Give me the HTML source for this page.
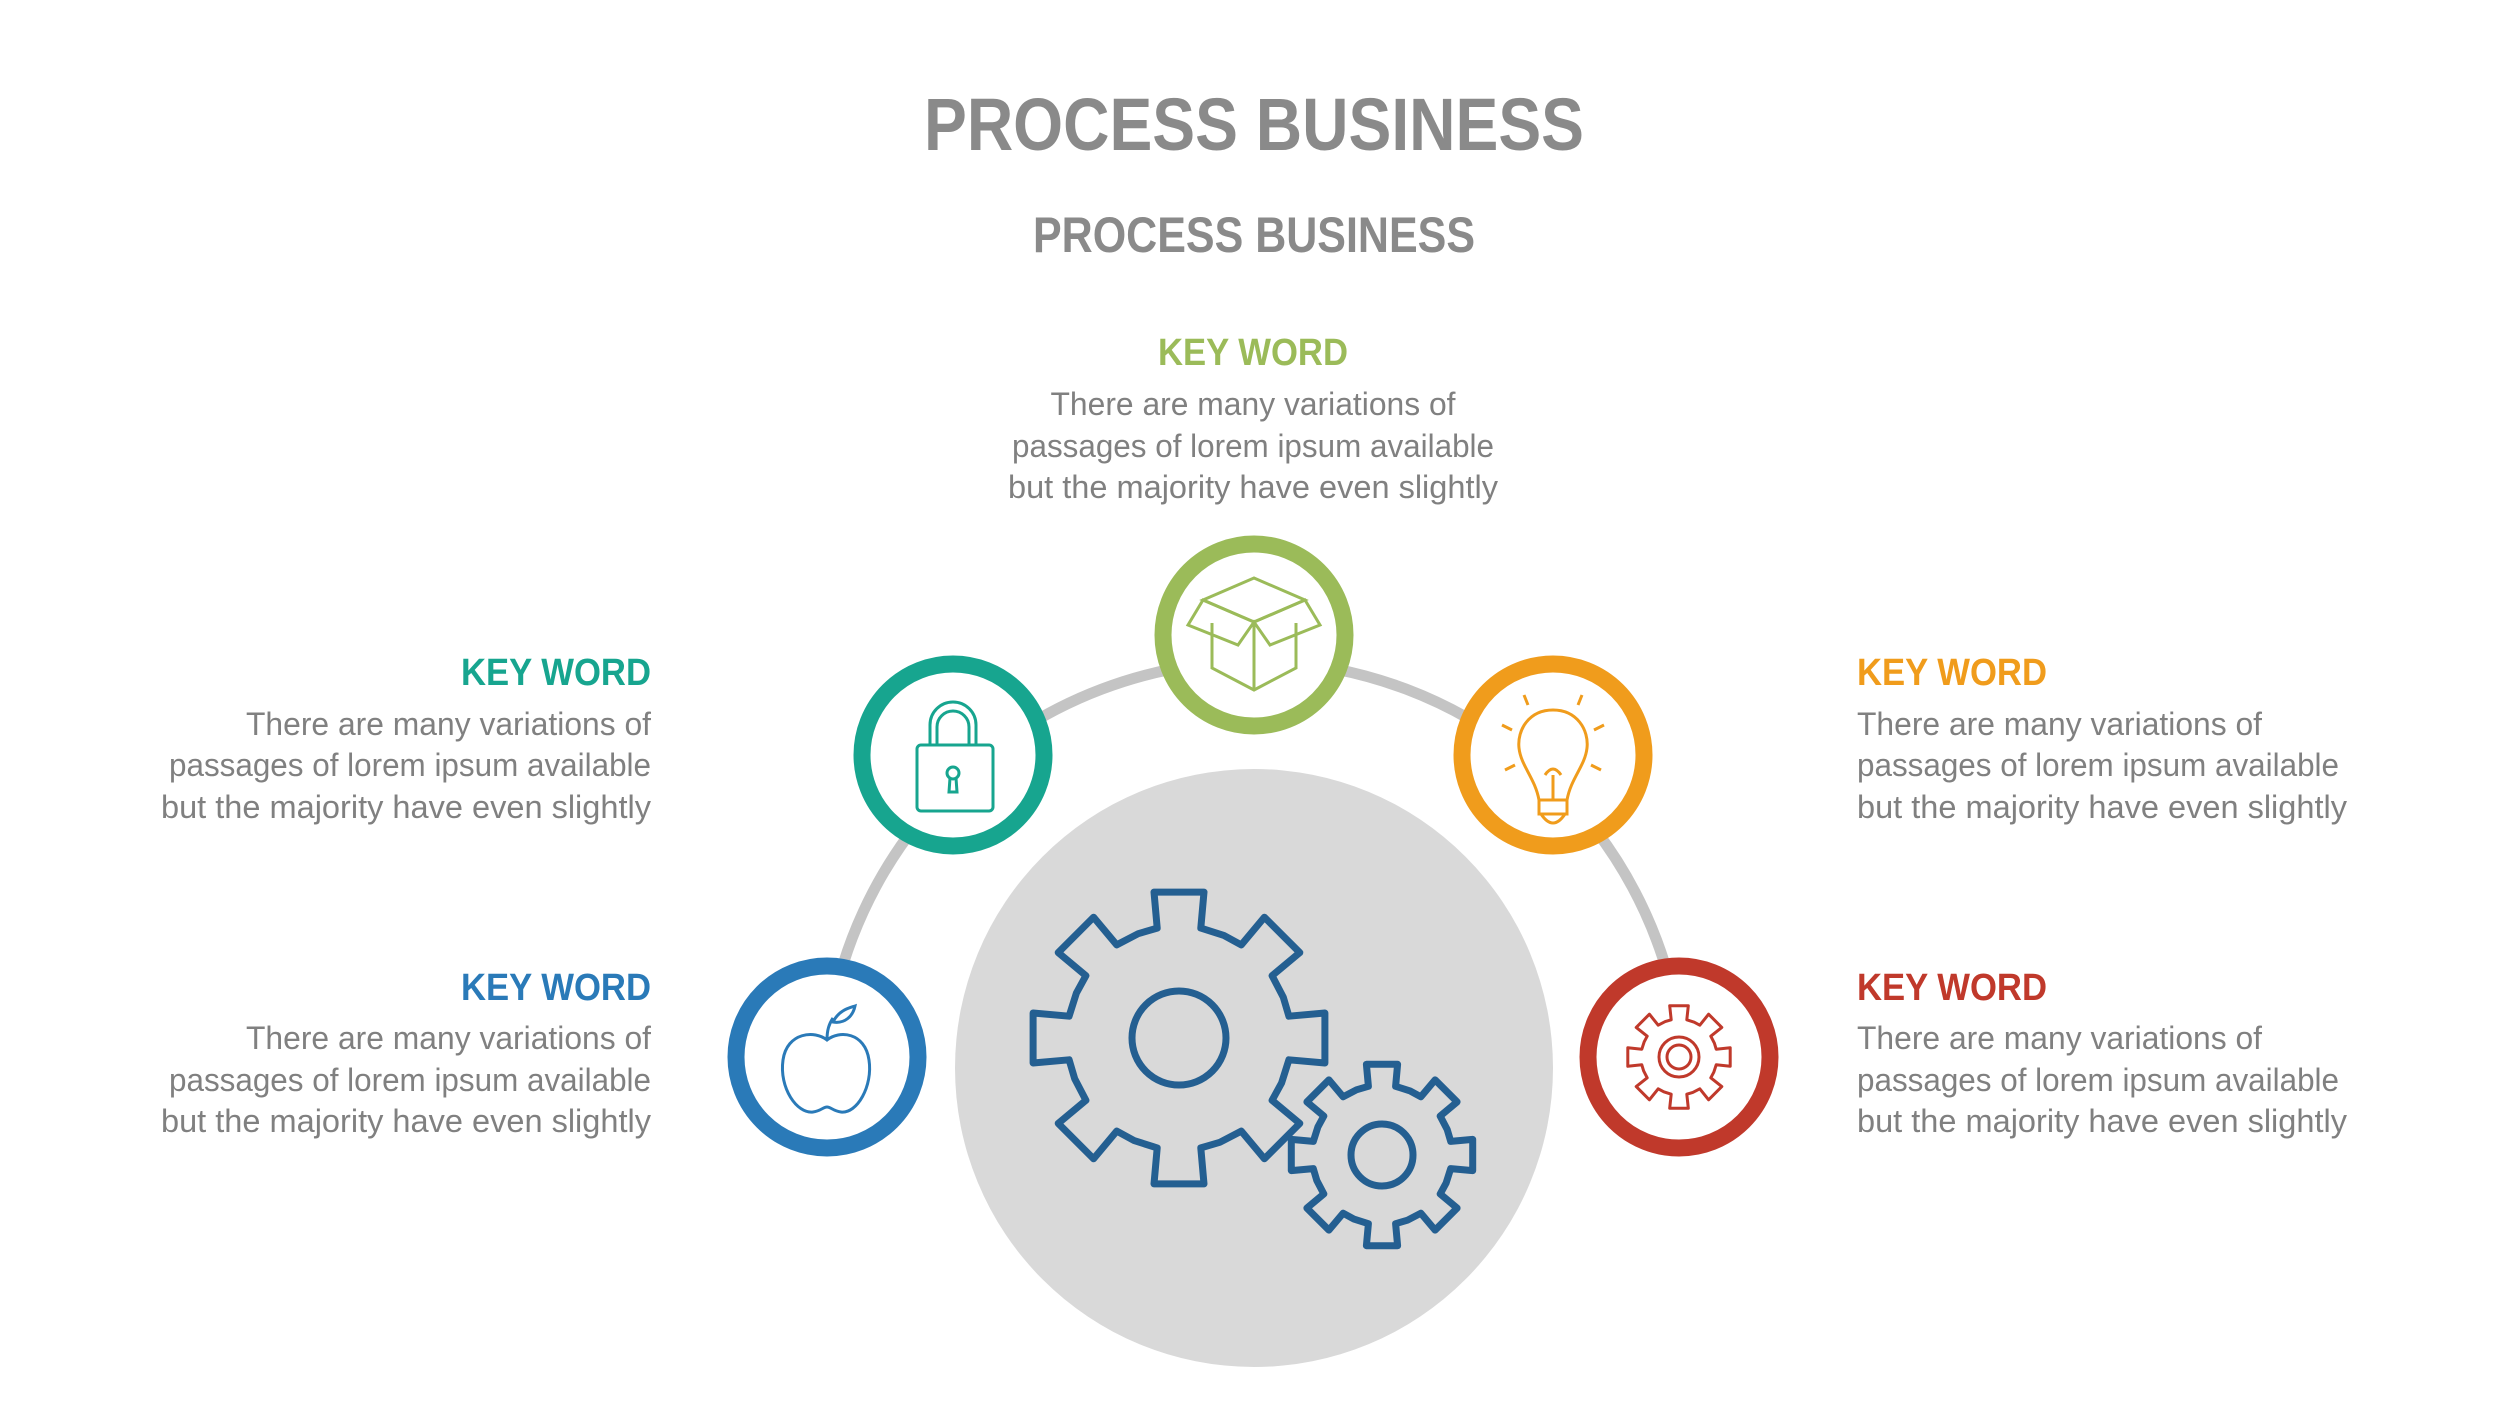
<!DOCTYPE html>
<html><head><meta charset="utf-8"><style>
html,body{margin:0;padding:0;background:#fff;}
svg{display:block;}
text{font-family:"Liberation Sans",sans-serif;}
</style></head><body>
<svg id="s" width="2500" height="1406" viewBox="0 0 2500 1406" xmlns="http://www.w3.org/2000/svg">
<rect width="2500" height="1406" fill="#fff"/>
<text x="1254" y="150" text-anchor="middle" font-size="74" font-weight="bold" fill="#8a8a8a" textLength="660" lengthAdjust="spacingAndGlyphs">PROCESS BUSINESS</text>
<text x="1254" y="252" text-anchor="middle" font-size="50" font-weight="bold" fill="#8a8a8a" textLength="442" lengthAdjust="spacingAndGlyphs">PROCESS BUSINESS</text>

<g font-size="32" fill="#808080">
<text x="1253" y="365" text-anchor="middle" font-size="38" font-weight="bold" fill="#9bbb59" textLength="190" lengthAdjust="spacingAndGlyphs">KEY WORD</text>
<text x="1253" y="415" text-anchor="middle" textLength="405" lengthAdjust="spacingAndGlyphs">There are many variations of</text>
<text x="1253" y="457" text-anchor="middle" textLength="482" lengthAdjust="spacingAndGlyphs">passages of lorem ipsum available</text>
<text x="1253" y="498" text-anchor="middle" textLength="490" lengthAdjust="spacingAndGlyphs">but the majority have even slightly</text>

<text x="651" y="685" text-anchor="end" font-size="38" font-weight="bold" fill="#17a58f" textLength="190" lengthAdjust="spacingAndGlyphs">KEY WORD</text>
<text x="651" y="735" text-anchor="end" textLength="405" lengthAdjust="spacingAndGlyphs">There are many variations of</text>
<text x="651" y="776" text-anchor="end" textLength="482" lengthAdjust="spacingAndGlyphs">passages of lorem ipsum available</text>
<text x="651" y="818" text-anchor="end" textLength="490" lengthAdjust="spacingAndGlyphs">but the majority have even slightly</text>

<text x="651" y="1000" text-anchor="end" font-size="38" font-weight="bold" fill="#2a7ab8" textLength="190" lengthAdjust="spacingAndGlyphs">KEY WORD</text>
<text x="651" y="1049" text-anchor="end" textLength="405" lengthAdjust="spacingAndGlyphs">There are many variations of</text>
<text x="651" y="1091" text-anchor="end" textLength="482" lengthAdjust="spacingAndGlyphs">passages of lorem ipsum available</text>
<text x="651" y="1132" text-anchor="end" textLength="490" lengthAdjust="spacingAndGlyphs">but the majority have even slightly</text>

<text x="1857" y="685" font-size="38" font-weight="bold" fill="#f09c1c" textLength="190" lengthAdjust="spacingAndGlyphs">KEY WORD</text>
<text x="1857" y="735" textLength="405" lengthAdjust="spacingAndGlyphs">There are many variations of</text>
<text x="1857" y="776" textLength="482" lengthAdjust="spacingAndGlyphs">passages of lorem ipsum available</text>
<text x="1857" y="818" textLength="490" lengthAdjust="spacingAndGlyphs">but the majority have even slightly</text>

<text x="1857" y="1000" font-size="38" font-weight="bold" fill="#c0392b" textLength="190" lengthAdjust="spacingAndGlyphs">KEY WORD</text>
<text x="1857" y="1049" textLength="405" lengthAdjust="spacingAndGlyphs">There are many variations of</text>
<text x="1857" y="1091" textLength="482" lengthAdjust="spacingAndGlyphs">passages of lorem ipsum available</text>
<text x="1857" y="1132" textLength="490" lengthAdjust="spacingAndGlyphs">but the majority have even slightly</text>
</g>

<!-- arc -->
<path d="M 825 1062 A 430 430 0 0 1 1683 1062" fill="none" stroke="#c4c4c4" stroke-width="11"/>
<!-- big circle -->
<circle cx="1254" cy="1068" r="299" fill="#d9d9d9"/>

<!-- node circles -->
<g fill="#fff" stroke-width="17">
<circle cx="1254" cy="635" r="91" stroke="#9bbb59"/>
<circle cx="953" cy="755" r="91" stroke="#17a58f"/>
<circle cx="1553" cy="755" r="91" stroke="#f09c1c"/>
<circle cx="827" cy="1057" r="91" stroke="#2a7ab8"/>
<circle cx="1679" cy="1057" r="91" stroke="#c0392b"/>
</g>

<!-- box icon -->
<g fill="none" stroke="#9bbb59" stroke-width="3">
<path d="M1254 578 L1305 600 L1254 622 L1203 600 Z"/>
<path d="M1203 600 L1254 622 L1305 600 L1320 625 L1270 645 L1254 622 L1238 645 L1188 625 Z"/>
<path d="M1212 623 L1212 668 L1254 690 L1296 668 L1296 623"/>
<path d="M1254 622 L1254 690"/>
</g>
<!-- lock icon -->
<g fill="none" stroke="#17a58f" stroke-width="3">
<path d="M930 745 V725 a23 23 0 0 1 46 0 V745"/>
<path d="M937 745 V727 a16 16 0 0 1 32 0 V745"/>
<rect x="917" y="745" width="76" height="66" rx="4"/>
<circle cx="953" cy="773" r="6"/><path d="M950 778 L949 792 H957 L956 778"/>
</g>
<!-- bulb icon -->
<g fill="none" stroke="#f09c1c" stroke-width="3">
<path d="M1553 710 c-24 0 -36 20 -34 38 c2 18 16 30 20 52 h28 c4 -22 18 -34 20 -52 c2 -18 -10 -38 -34 -38z"/>
<rect x="1539" y="800" width="28" height="14"/><path d="M1541 814 q12 18 24 0"/>
<path d="M1545 775 q8 -12 16 0 M1553 775 V800"/>
<path d="M1524 695 l4 10 M1582 695 l-4 10 M1502 725 l10 5 M1604 725 l-10 5 M1505 770 l10 -5 M1601 770 l-10 -5"/>
</g>
<!-- apple icon -->
<g fill="none" stroke="#2a7ab8" stroke-width="3">
<path d="M827 1040 c-12 -10 -40 -8 -44 20 c-4 28 14 54 30 52 c8 -1 10 -5 14 -5 c4 0 6 4 14 5 c16 2 32 -26 28 -52 c-4 -28 -30 -30 -42 -20z"/>
<path d="M827 1040 c0 -10 2 -16 6 -22 M833 1022 c6 -12 16 -14 22 -16 c-2 10 -10 18 -22 16z"/>
</g>

<g id="gears"></g>
</svg>
<script>
function gear(cx,cy,ro,ri,n,tw){
  var d="",step=2*Math.PI/n;
  for(var i=0;i<n;i++){
    var a=i*step-Math.PI/2;
    var pts=[[ri,a-step/2+0.02],[ri,a-tw*1.15],[ro,a-tw],[ro,a+tw],[ri,a+tw*1.15]];
    pts.forEach(function(p,j){
      var x=cx+p[0]*Math.cos(p[1]),y=cy+p[0]*Math.sin(p[1]);
      d+=(i==0&&j==0?"M":"L")+x.toFixed(1)+" "+y.toFixed(1)+" ";
    });
  }
  return d+"Z";
}
var g=document.getElementById("gears"),ns="http://www.w3.org/2000/svg";
function add(d,c,w,circ){
  var p=document.createElementNS(ns,"path");p.setAttribute("d",d);p.setAttribute("fill","none");
  p.setAttribute("stroke",c);p.setAttribute("stroke-width",w);p.setAttribute("stroke-linejoin","round");g.appendChild(p);
}
function ring(cx,cy,r,c,w){
  var e=document.createElementNS(ns,"circle");e.setAttribute("cx",cx);e.setAttribute("cy",cy);e.setAttribute("r",r);
  e.setAttribute("fill","none");e.setAttribute("stroke",c);e.setAttribute("stroke-width",w);g.appendChild(e);
}
add(gear(1179,1038,148,112,8,0.17),"#245f91",7);ring(1179,1038,47,"#245f91",7);
add(gear(1382,1155,92,70,8,0.17),"#245f91",7);ring(1382,1155,31,"#245f91",7);
add(gear(1679,1057,52,38,8,0.18),"#c0392b",3);ring(1679,1057,20,"#c0392b",3);ring(1679,1057,12,"#c0392b",3);
</script>
</body></html>
